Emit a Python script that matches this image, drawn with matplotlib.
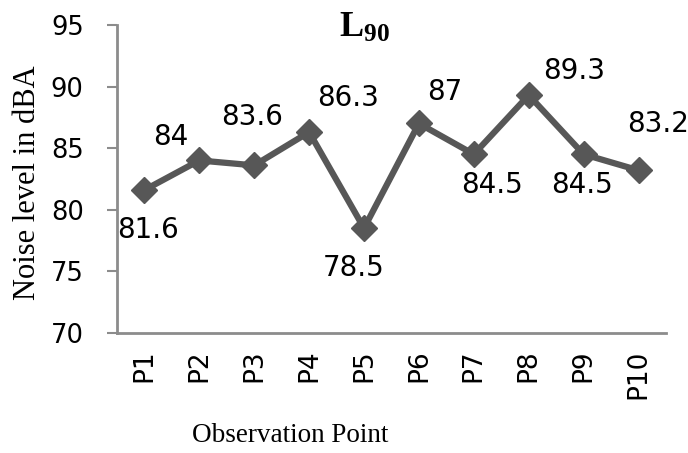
import matplotlib
matplotlib.use("Agg")
import matplotlib.pyplot as plt

# L90 noise levels at each observation point
points = ["P1", "P2", "P3", "P4", "P5", "P6", "P7", "P8", "P9", "P10"]
l90 = [81.6, 84, 83.6, 86.3, 78.5, 87, 84.5, 89.3, 84.5, 83.2]
labels = ["81.6", "84", "83.6", "86.3", "78.5", "87", "84.5", "89.3", "84.5", "83.2"]
# where each value label sits relative to its marker (pixels)
label_offsets = [(4, -40), (-29, 23), (-2, 48), (39, 34), (-10, -40),
                 (26, 31), (18, -31), (45, 24), (-2, -31), (20, 46)]

plt.rcParams["mathtext.fontset"] = "custom"
plt.rcParams["mathtext.rm"] = "Liberation Serif"
plt.rcParams["mathtext.bf"] = "Liberation Serif:bold"

fig = plt.figure(figsize=(6.88, 4.53), dpi=100)
ax = fig.add_axes([0.170, 0.265, 0.798, 0.680])

x = list(range(len(points)))
line_col = "#575757"
ax.plot(x, l90, color=line_col, lw=4.5, marker="D", markersize=13.5,
        markerfacecolor=line_col, markeredgecolor=line_col, solid_joinstyle="miter")

for xi, yi, txt, off in zip(x, l90, labels, label_offsets):
    ax.annotate(txt, (xi, yi), xytext=off, textcoords="offset pixels",
                ha="center", va="center", fontsize=20, family="DejaVu Sans")

ax.set_xlim(-0.5, len(points) - 0.5)
ax.set_ylim(70, 95)
ax.set_yticks([70, 75, 80, 85, 90, 95])
ax.set_xticks(x)
ax.set_xticklabels(points, rotation=90, fontsize=19, family="DejaVu Sans")
for t in ax.get_yticklabels():
    t.set_fontsize(18.5)

ax.tick_params(axis="y", length=7, width=1.5, color="#8c8c8c", pad=17)
ax.tick_params(axis="x", length=0, pad=12)

for s in ["top", "right"]:
    ax.spines[s].set_visible(False)
for s in ["left", "bottom"]:
    ax.spines[s].set_color("#8c8c8c")
    ax.spines[s].set_linewidth(2)

fig.text(0.040, 0.596, "Noise level in dBA", rotation=90, ha="center", va="center",
         fontsize=22, family="Liberation Serif")
fig.text(0.422, 0.038, "Observation Point", ha="center", va="center",
         fontsize=19.5, family="Liberation Serif")
fig.text(0.529, 0.94, r"$\mathbf{L_{90}}$", ha="center", va="center", fontsize=26)

fig.savefig("out.png", dpi=100)
